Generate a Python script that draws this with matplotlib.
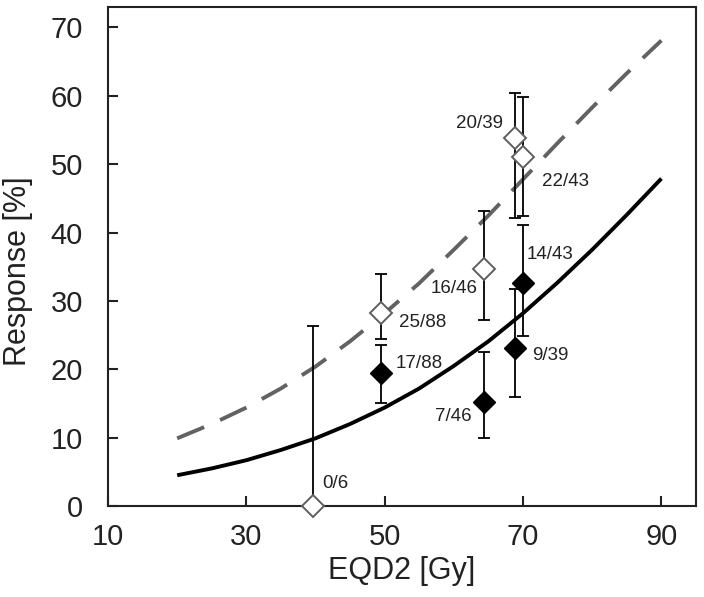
import matplotlib
matplotlib.use("Agg")
import matplotlib.pyplot as plt

plt.rcParams['font.family'] = ['Liberation Sans', 'DejaVu Sans']

# ---- data ----
# open diamonds (grey)
open_x = [39.6, 49.5, 64.4, 68.9, 70.0]
open_y = [0.0, 28.3, 34.7, 53.8, 51.1]
open_lo = [0.0, 24.5, 27.2, 42.2, 42.4]
open_hi = [26.3, 34.0, 43.1, 60.4, 59.8]
open_labels = ["0/6", "25/88", "16/46", "20/39", "22/43"]

# filled diamonds (black)
fill_x = [49.5, 64.4, 68.9, 70.0]
fill_y = [19.4, 15.2, 23.1, 32.6]
fill_lo = [15.0, 9.9, 16.0, 24.9]
fill_hi = [23.6, 22.5, 31.8, 41.1]
fill_labels = ["17/88", "7/46", "9/39", "14/43"]

# model curves
curve_x = [20, 25, 30, 35, 40, 45, 50, 55, 60, 65, 70, 75, 80, 85, 90]
solid_y = [4.5, 5.5, 6.7, 8.2, 9.9, 12.0, 14.4, 17.2, 20.5, 24.1, 28.2, 32.7, 37.5, 42.6, 47.9]
dashed_y = [9.9, 12.0, 14.4, 17.2, 20.4, 24.1, 28.2, 32.6, 37.5, 42.5, 47.8, 53.1, 58.3, 63.3, 68.1]

x_ticks = [10, 30, 50, 70, 90]
y_ticks = [0, 10, 20, 30, 40, 50, 60, 70]

# label offsets (points) and alignment
open_offsets = [(6.8, 16.3, 'left'), (12.5, -7.4, 'left'), (-4.8, -14.4, 'right'),
                (-8.6, 10.4, 'right'), (13.7, -18.0, 'left')]
fill_offsets = [(10.3, 7.2, 'left'), (-8.9, -10.6, 'right'), (12.0, -5.0, 'left'),
                (2.6, 20.4, 'left')]

fig = plt.figure(figsize=(7.04, 5.97), dpi=100)
ax = fig.add_axes([0.1534, 0.1524, 0.9886 - 0.1534, 0.9883 - 0.1524])

ax.plot(curve_x, solid_y, color='black', lw=2.8, solid_capstyle='butt', zorder=2)
ax.plot(curve_x, dashed_y, color='#626262', lw=2.8, dashes=(7.5, 4.5),
        dash_capstyle='butt', zorder=2)

def yerr(y, lo, hi):
    return [[a - b for a, b in zip(y, lo)], [c - a for a, c in zip(y, hi)]]

ax.errorbar(open_x, open_y, yerr=yerr(open_y, open_lo, open_hi), fmt='none',
            ecolor='black', elinewidth=1.3, capsize=4, capthick=1.3, zorder=3,
            clip_on=False)
ax.errorbar(fill_x, fill_y, yerr=yerr(fill_y, fill_lo, fill_hi), fmt='none',
            ecolor='black', elinewidth=1.3, capsize=4, capthick=1.3, zorder=3)

ax.plot(open_x, open_y, linestyle='none', marker='D', ms=11.5, mfc='white',
        mec='#5e5e5e', mew=1.4, zorder=5, clip_on=False)
ax.plot(fill_x, fill_y, linestyle='none', marker='D', ms=11.5, mfc='black',
        mec='black', mew=1.0, zorder=5)

for x, y, t, (dx, dy, ha) in zip(open_x, open_y, open_labels, open_offsets):
    ax.annotate(t, (x, y), xytext=(dx, dy), textcoords='offset points',
                ha=ha, va='center', fontsize=13.5, color='#222222')
for x, y, t, (dx, dy, ha) in zip(fill_x, fill_y, fill_labels, fill_offsets):
    ax.annotate(t, (x, y), xytext=(dx, dy), textcoords='offset points',
                ha=ha, va='center', fontsize=13.5, color='#222222')

ax.set_xlim(10, 95)
ax.set_ylim(0, 73)
ax.set_xticks(x_ticks)
ax.set_yticks(y_ticks)
ax.tick_params(axis='both', direction='in', length=7, width=1.5,
               labelsize=21, colors='#222222')
ax.tick_params(axis='x', pad=12)
ax.tick_params(axis='y', pad=18)
for s in ax.spines.values():
    s.set_linewidth(1.5)
    s.set_color('#222222')

ax.set_xlabel('EQD2 [Gy]', fontsize=22, color='#222222', labelpad=4)
ax.set_ylabel('Response [%]', fontsize=22, color='#222222')
ax.yaxis.set_label_coords(-0.128, 0.471)

fig.savefig('out.png', dpi=100)
